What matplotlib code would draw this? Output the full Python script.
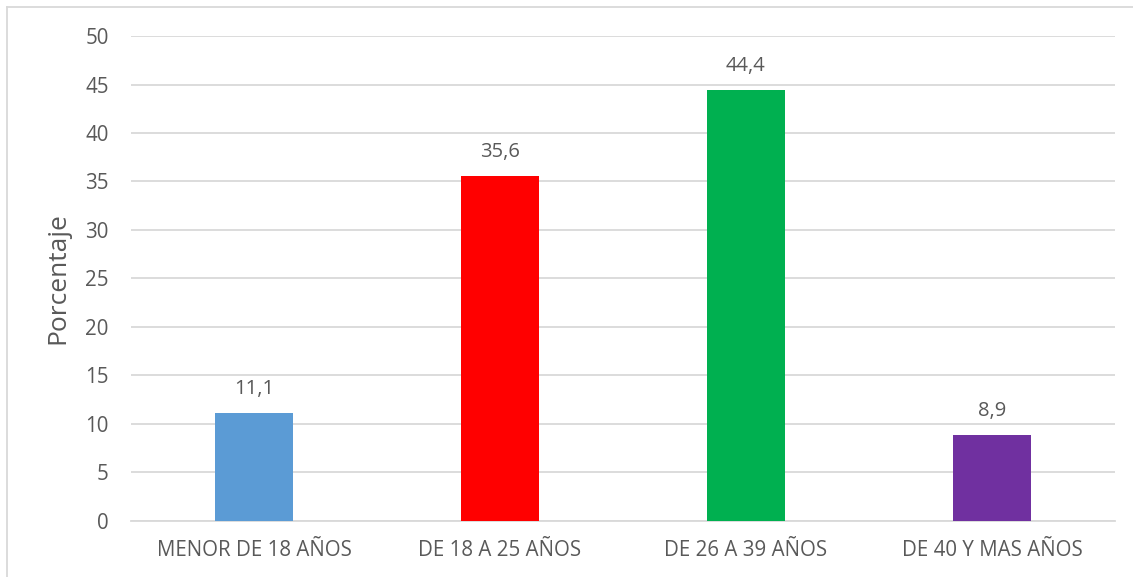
import matplotlib
matplotlib.use("Agg")
import matplotlib.pyplot as plt
from matplotlib.lines import Line2D

categories = ["MENOR DE 18 AÑOS", "DE 18 A 25 AÑOS", "DE 26 A 39 AÑOS", "DE 40 Y MAS AÑOS"]
values = [11.1, 35.6, 44.4, 8.9]
colors = ["#5B9BD5", "#FF0000", "#00B050", "#7030A0"]
yticks = [0, 5, 10, 15, 20, 25, 30, 35, 40, 45, 50]

plt.rcParams["font.family"] = ["Open Sans", "DejaVu Sans"]
text_color = "#595959"
grid_color = "#D9D9D9"

fig = plt.figure(figsize=(11.33, 5.77), dpi=100)
ax = fig.add_axes([0.1156, 0.0971, 0.8685, 0.8405])

x = range(len(categories))
bars = ax.bar(x, values, width=0.317, color=colors, zorder=3)
for b, v in zip(bars, values):
    ax.annotate(f"{v:.1f}".replace(".", ","), (b.get_x() + b.get_width() / 2, v),
                xytext=(0, 10), textcoords="offset points", ha="center", va="bottom",
                fontsize=14.5, color=text_color)

ax.set_xlim(-0.5, len(categories) - 0.5)
ax.set_ylim(0, 50)
ax.set_yticks(yticks)
ax.set_yticklabels([str(t) for t in yticks])
ax.set_xticks(list(x))
ax.set_xticklabels(categories)
ax.tick_params(axis="both", length=0, labelsize=14.8, colors=text_color)
ax.tick_params(axis="y", pad=16)
ax.tick_params(axis="x", pad=14)
ax.yaxis.grid(True, color=grid_color, linewidth=1.3, zorder=0)
for s in ["top", "right", "left"]:
    ax.spines[s].set_visible(False)
ax.spines["bottom"].set_color(grid_color)
ax.spines["bottom"].set_linewidth(1.3)
ax.set_ylabel("Porcentaje", fontsize=19, color=text_color, labelpad=11)

# chart frame (top and left edges)
fig.add_artist(Line2D([7 / 1133, 1.0], [1 - 7 / 577, 1 - 7 / 577], transform=fig.transFigure,
                      color="#D9D9D9", linewidth=1.3))
fig.add_artist(Line2D([7 / 1133, 7 / 1133], [0, 1 - 7 / 577], transform=fig.transFigure,
                      color="#D9D9D9", linewidth=1.3))

fig.savefig("out.png", dpi=100)
